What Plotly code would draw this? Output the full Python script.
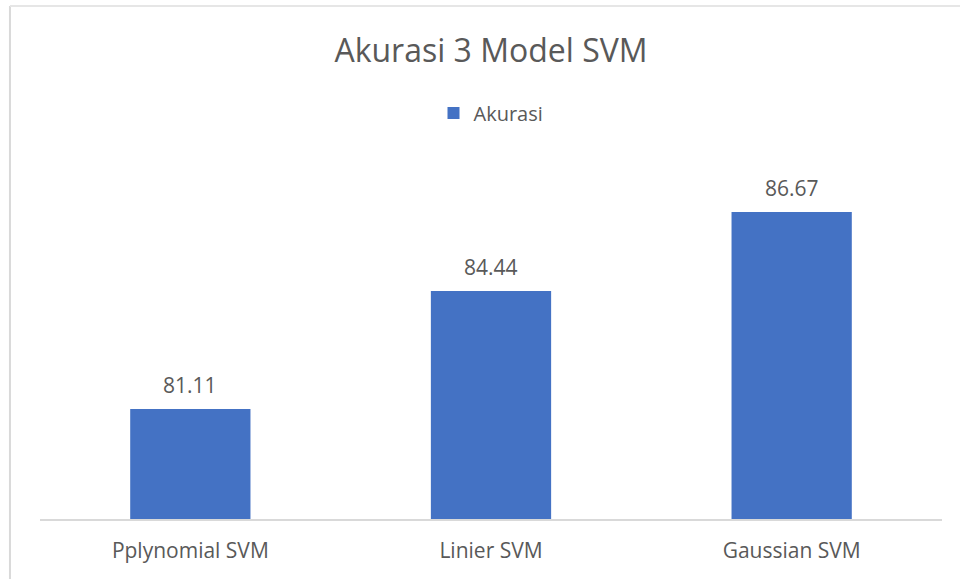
import plotly.graph_objects as go

# data
models = ['Pplynomial SVM', 'Linier SVM', 'Gaussian SVM']
akurasi = [81.11, 84.44, 86.67]

FONT = 'Open Sans'
TXT = '#595959'

fig = go.Figure()

fig.add_trace(go.Bar(x=models, y=akurasi, name='Akurasi', marker=dict(color='#4472C4', line=dict(width=0)),
                     showlegend=True))

# data labels above bars
for m, v in zip(models, akurasi):
    fig.add_annotation(x=m, y=v, text=f'{v:.2f}', showarrow=False, yanchor='middle', yshift=24,
                       font=dict(family=FONT, size=21, color=TXT))

# chart border (Excel style, only left and top edges visible)
fig.add_shape(type='line', xref='paper', yref='paper', x0=-0.0333, x1=-0.0333, y0=-0.3, y1=1.449,
              line=dict(color='#d9d9d9', width=2), layer='below')
fig.add_shape(type='line', xref='paper', yref='paper', x0=-0.0333, x1=1.2, y0=1.449, y1=1.449,
              line=dict(color='#e6e6e6', width=2), layer='below')

fig.update_layout(
    width=960, height=579,
    margin=dict(l=40, r=18, t=165, b=60),
    plot_bgcolor='white', paper_bgcolor='white',
    title=dict(text='Akurasi 3 Model SVM', x=0.5, xref='paper', xanchor='center', y=1 - 51 / 579, yanchor='middle',
               font=dict(family=FONT, size=32, color=TXT)),
    legend=dict(orientation='h', x=0.5, xanchor='center', y=1 + (165 - 113) / 354, yanchor='middle',
                font=dict(family=FONT, size=20, color=TXT), itemwidth=30, bgcolor='rgba(0,0,0,0)'),
    bargap=0.6,
    xaxis=dict(showline=True, linecolor='#d9d9d9', linewidth=2, ticks='', showgrid=False,
               tickfont=dict(family=FONT, size=21, color=TXT), ticklabelstandoff=12),
    yaxis=dict(range=[78, 88], visible=False, showgrid=False, zeroline=False),
)

fig.write_html('out.html', config={'displayModeBar': False}, post_script="document.body.style.margin='0';")
